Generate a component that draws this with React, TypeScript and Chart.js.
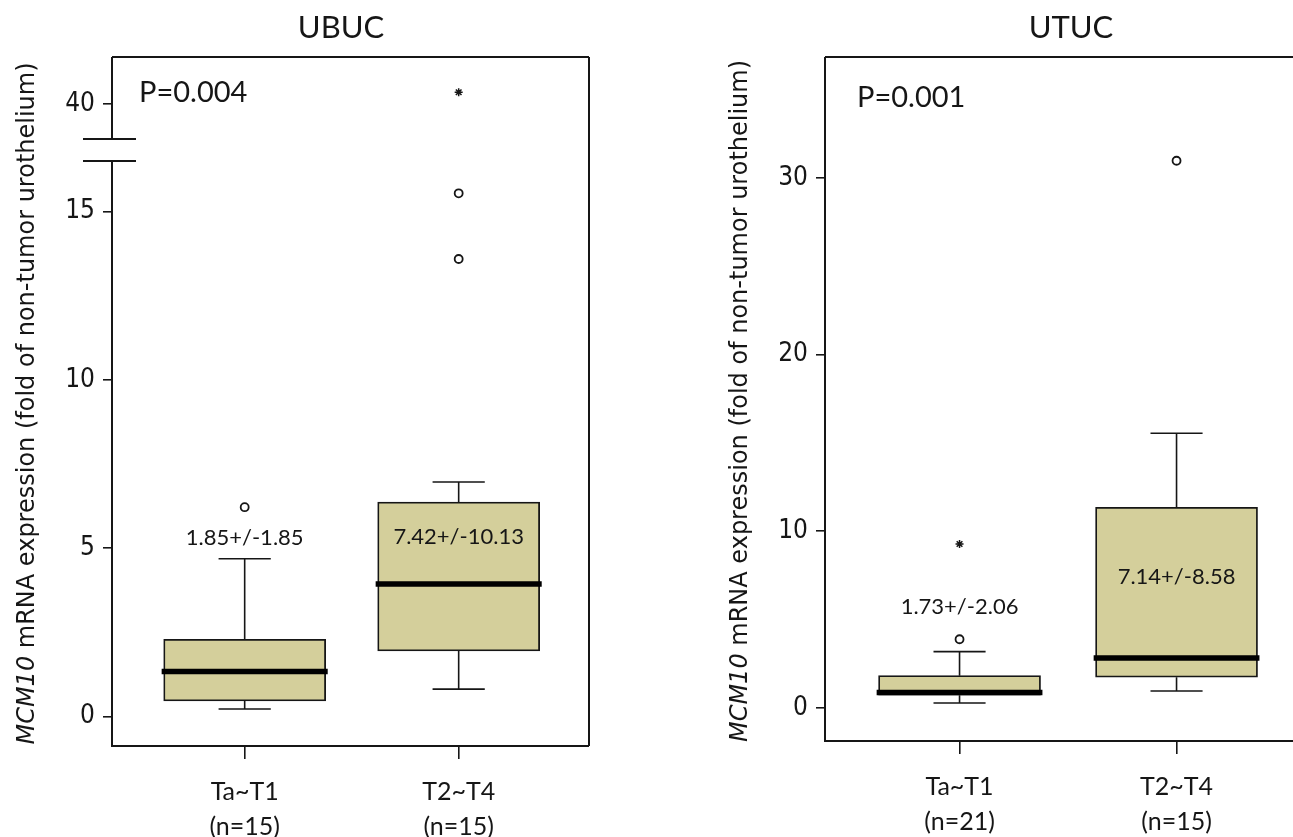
import React, { useEffect, useRef } from "react";
import { Chart, registerables } from "chart.js";

Chart.register(...registerables);

// ---------------- data ----------------
const UBUC_TITLE = "UBUC";
const UBUC_P_TEXT = "P=0.004";
const UBUC_CATEGORIES = [["Ta~T1", "(n=15)"], ["T2~T4", "(n=15)"]];
const UBUC_WHISKER_LOW = [0.23, 0.82];
const UBUC_Q1 = [0.47, 1.95];
const UBUC_MEDIAN = [1.34, 3.94];
const UBUC_Q3 = [2.3, 6.37];
const UBUC_WHISKER_HIGH = [4.69, 6.97];
const UBUC_OUTLIERS = [
  { x: 0, y: 6.22 },
  { x: 1, y: 15.54 },
  { x: 1, y: 13.59 },
];
const UBUC_EXTREMES = [{ x: 1, y: 40.35 }];
const UBUC_STAT_TEXT = ["1.85+/-1.85", "7.42+/-10.13"];
const UBUC_STAT_Y = [5.3, 5.34];
const UBUC_Y_TICKS = [0, 5, 10, 15, 40];

const UTUC_TITLE = "UTUC";
const UTUC_P_TEXT = "P=0.001";
const UTUC_CATEGORIES = [["Ta~T1", "(n=21)"], ["T2~T4", "(n=15)"]];
const UTUC_WHISKER_LOW = [0.28, 0.96];
const UTUC_Q1 = [0.72, 1.74];
const UTUC_MEDIAN = [0.88, 2.83];
const UTUC_Q3 = [1.83, 11.36];
const UTUC_WHISKER_HIGH = [3.19, 15.55];
const UTUC_OUTLIERS = [
  { x: 0, y: 3.89 },
  { x: 1, y: 30.97 },
];
const UTUC_EXTREMES = [{ x: 0, y: 9.28 }];
const UTUC_STAT_TEXT = ["1.73+/-2.06", "7.14+/-8.58"];
const UTUC_STAT_Y = [5.73, 7.43];
const UTUC_Y_TICKS = [0, 10, 20, 30];

const Y_TITLE_ITALIC = "MCM10";
const Y_TITLE_REST = " mRNA expression (fold of non-tumor urothelium)";

// ---------------- style ----------------
const INK = "#161616";
const BOX_FILL = "#d4cf9b";
const LABEL_FONT = "Lato, 'Open Sans', sans-serif";
const TICK_FONT = "'Liberation Sans Narrow', 'Arial Narrow', 'DejaVu Sans Condensed', sans-serif";
const YTITLE_FONT = "'DejaVu Sans', Verdana, sans-serif";

type Pt = { x: number; y: number };
type Panel = {
  title: string;
  pText: string;
  cats: string[][];
  lo: number[];
  q1: number[];
  med: number[];
  q3: number[];
  hi: number[];
  outliers: Pt[];
  extremes: Pt[];
  statText: string[];
  statY: number[];
  yTicks: number[];
  brk?: { from: number; upperBase: number; displayBase: number; gapLow: number; gapHigh: number };
  lay: {
    width: number;
    yMin: number;
    yMax: number;
    xMin: number;
    xMax: number;
    yAxisW: number;
    xAxisH: number;
    padR: number;
    top: number;
    boxPx: number;
    medHalf: number;
    capHalf: number;
    titleX: number;
    titleY: number;
    pDx: number;
    pDy: number;
    yTitleDx: number;
  };
};

const UBUC_PANEL: Panel = {
  title: UBUC_TITLE,
  pText: UBUC_P_TEXT,
  cats: UBUC_CATEGORIES,
  lo: UBUC_WHISKER_LOW,
  q1: UBUC_Q1,
  med: UBUC_MEDIAN,
  q3: UBUC_Q3,
  hi: UBUC_WHISKER_HIGH,
  outliers: UBUC_OUTLIERS,
  extremes: UBUC_EXTREMES,
  statText: UBUC_STAT_TEXT,
  statY: UBUC_STAT_Y,
  yTicks: UBUC_Y_TICKS,
  brk: { from: 30, upperBase: 40, displayBase: 18.19, gapLow: 16.5, gapHigh: 17.15 },
  lay: {
    width: 650,
    yMin: -0.87,
    yMax: 19.587,
    xMin: -0.62,
    xMax: 1.609,
    yAxisW: 112,
    xAxisH: 91,
    padR: 61,
    top: 57,
    boxPx: 162,
    medHalf: 0.388,
    capHalf: 0.122,
    titleX: 341,
    titleY: 28,
    pDx: 27,
    pDy: 36,
    yTitleDx: 84,
  },
};

const UTUC_PANEL: Panel = {
  title: UTUC_TITLE,
  pText: UTUC_P_TEXT,
  cats: UTUC_CATEGORIES,
  lo: UTUC_WHISKER_LOW,
  q1: UTUC_Q1,
  med: UTUC_MEDIAN,
  q3: UTUC_Q3,
  hi: UTUC_WHISKER_HIGH,
  outliers: UTUC_OUTLIERS,
  extremes: UTUC_EXTREMES,
  statText: UTUC_STAT_TEXT,
  statY: UTUC_STAT_Y,
  yTicks: UTUC_Y_TICKS,
  lay: {
    width: 700,
    yMin: -1.868,
    yMax: 36.84,
    xMin: -0.62,
    xMax: 1.615,
    yAxisW: 175,
    xAxisH: 96,
    padR: 40,
    top: 57,
    boxPx: 162,
    medHalf: 0.382,
    capHalf: 0.12,
    titleX: 421,
    titleY: 28,
    pDx: 32,
    pDy: 41,
    yTitleDx: 84,
  },
};

function buildChart(canvas: HTMLCanvasElement, p: Panel) {
  const L = p.lay;
  const tf = (v: number) =>
    p.brk && v > p.brk.from ? v - p.brk.upperBase + p.brk.displayBase : v;

  const boxData = p.q1.map((q, i) => ({ x: i, y: [q, p.q3[i]] }));
  const medData: any[] = [];
  const whiskerData: any[] = [];
  p.med.forEach((m, i) => {
    medData.push({ x: i - L.medHalf, y: m }, { x: i + L.medHalf, y: m }, { x: i, y: null });
    whiskerData.push(
      { x: i - L.capHalf, y: p.lo[i] },
      { x: i + L.capHalf, y: p.lo[i] },
      { x: i, y: null },
      { x: i, y: p.lo[i] },
      { x: i, y: p.q1[i] },
      { x: i, y: null },
      { x: i, y: p.q3[i] },
      { x: i, y: p.hi[i] },
      { x: i, y: null },
      { x: i - L.capHalf, y: p.hi[i] },
      { x: i + L.capHalf, y: p.hi[i] },
      { x: i, y: null }
    );
  });

  const decor = {
    id: "decor",
    afterDraw(chart: any) {
      const { ctx, chartArea: a, scales } = chart;
      const ys = scales.y;
      const xs = scales.x;
      ctx.save();
      // frame
      ctx.strokeStyle = INK;
      ctx.lineWidth = 2;
      ctx.lineCap = "butt";
      ctx.beginPath();
      ctx.moveTo(a.left, a.top);
      ctx.lineTo(a.right, a.top);
      ctx.moveTo(a.right, a.top);
      ctx.lineTo(a.right, a.bottom);
      ctx.moveTo(a.right, a.bottom);
      ctx.lineTo(a.left, a.bottom);
      if (p.brk) {
        const gl = ys.getPixelForValue(p.brk.gapLow);
        const gh = ys.getPixelForValue(p.brk.gapHigh);
        ctx.lineTo(a.left, gl);
        ctx.moveTo(a.left, gh);
        ctx.lineTo(a.left, a.top);
        ctx.moveTo(a.left - 29, gh);
        ctx.lineTo(a.left + 24, gh);
        ctx.moveTo(a.left - 29, gl);
        ctx.lineTo(a.left + 24, gl);
      } else {
        ctx.lineTo(a.left, a.top);
      }
      ctx.stroke();

      ctx.fillStyle = INK;
      // title
      ctx.font = `31px ${LABEL_FONT}`;
      ctx.textAlign = "center";
      ctx.textBaseline = "middle";
      ctx.fillText(p.title, L.titleX, L.titleY);
      // p text
      ctx.font = `29px ${LABEL_FONT}`;
      ctx.textAlign = "left";
      ctx.fillText(p.pText, a.left + L.pDx, a.top + L.pDy);
      // stat labels
      ctx.font = `22px ${LABEL_FONT}`;
      ctx.textAlign = "center";
      p.statText.forEach((t, i) => {
        ctx.fillText(t, xs.getPixelForValue(i), ys.getPixelForValue(p.statY[i]));
      });
      // y title (rotated, mixed italic)
      ctx.translate(a.left - L.yTitleDx, (a.top + a.bottom) / 2 + 2);
      ctx.rotate(-Math.PI / 2);
      const fi = `italic 24px ${YTITLE_FONT}`;
      const fn = `24px ${YTITLE_FONT}`;
      ctx.font = fi;
      const w1 = ctx.measureText(Y_TITLE_ITALIC).width;
      ctx.font = fn;
      const w2 = ctx.measureText(Y_TITLE_REST).width;
      const x0 = -(w1 + w2) / 2;
      ctx.textAlign = "left";
      ctx.font = fi;
      ctx.fillText(Y_TITLE_ITALIC, x0, 0);
      ctx.font = fn;
      ctx.fillText(Y_TITLE_REST, x0 + w1, 0);
      ctx.restore();
    },
  };

  return new Chart(canvas, {
    type: "bar",
    data: {
      datasets: [
        {
          type: "bar",
          data: boxData as any,
          backgroundColor: BOX_FILL,
          borderColor: INK,
          borderWidth: 1.8,
          borderSkipped: false,
          barThickness: L.boxPx,
          order: 3,
        },
        {
          type: "line",
          data: whiskerData,
          borderColor: INK,
          borderWidth: 1.6,
          pointRadius: 0,
          spanGaps: false,
          fill: false,
          order: 4,
        },
        {
          type: "line",
          data: medData,
          borderColor: "#000",
          borderWidth: 5.5,
          borderCapStyle: "butt",
          pointRadius: 0,
          spanGaps: false,
          fill: false,
          order: 1,
        },
        {
          type: "scatter",
          data: p.outliers.map((o) => ({ x: o.x, y: tf(o.y) })),
          pointStyle: "circle",
          pointRadius: 4,
          borderWidth: 1.8,
          borderColor: INK,
          backgroundColor: "rgba(0,0,0,0)",
          order: 0,
        },
        {
          type: "scatter",
          data: p.extremes.map((o) => ({ x: o.x, y: tf(o.y) })),
          pointStyle: "star",
          pointRadius: 4,
          borderWidth: 1.5,
          borderColor: INK,
          backgroundColor: INK,
          order: 0,
        },
      ] as any,
    },
    options: {
      responsive: false,
      animation: false,
      devicePixelRatio: 1,
      events: [],
      layout: { padding: { left: 0, right: L.padR, top: L.top, bottom: 0 } },
      plugins: { legend: { display: false }, tooltip: { enabled: false } },
      scales: {
        x: {
          type: "linear",
          min: L.xMin,
          max: L.xMax,
          offset: false,
          afterBuildTicks: (s: any) => {
            s.ticks = p.cats.map((_, i) => ({ value: i }));
          },
          afterFit: (s: any) => {
            s.height = L.xAxisH;
          },
          ticks: {
            autoSkip: false,
            maxRotation: 0,
            minRotation: 0,
            padding: 15,
            color: INK,
            font: { family: LABEL_FONT, size: 25, lineHeight: 1.4 },
            callback: (_v: any, i: number) => p.cats[i],
          },
          grid: {
            drawOnChartArea: false,
            drawTicks: true,
            tickLength: 13,
            color: INK,
            lineWidth: 1.6,
            offset: false,
          },
          border: { display: false },
        },
        y: {
          type: "linear",
          min: L.yMin,
          max: L.yMax,
          afterBuildTicks: (s: any) => {
            s.ticks = p.yTicks.map((v) => ({ value: tf(v) }));
          },
          afterFit: (s: any) => {
            s.width = L.yAxisW;
          },
          ticks: {
            padding: 8,
            color: INK,
            font: { family: TICK_FONT, size: 26 },
            callback: (_v: any, i: number) => String(p.yTicks[i]),
          },
          grid: {
            drawOnChartArea: false,
            drawTicks: true,
            tickLength: 9,
            color: INK,
            lineWidth: 1.6,
          },
          border: { display: false },
        },
      },
    } as any,
    plugins: [decor],
  });
}

export default function App() {
  const leftRef = useRef<HTMLCanvasElement>(null);
  const rightRef = useRef<HTMLCanvasElement>(null);
  useEffect(() => {
    const a = buildChart(leftRef.current!, UBUC_PANEL);
    const b = buildChart(rightRef.current!, UTUC_PANEL);
    return () => {
      a.destroy();
      b.destroy();
    };
  }, []);
  return (
    <div
      style={{
        position: "absolute",
        left: 0,
        top: 0,
        width: 1293,
        height: 837,
        overflow: "hidden",
        background: "#fff",
      }}
    >
      <div style={{ position: "absolute", left: 0, top: 0, width: 650, height: 837 }}>
        <canvas ref={leftRef} width={650} height={837} />
      </div>
      <div style={{ position: "absolute", left: 650, top: 0, width: 700, height: 837 }}>
        <canvas ref={rightRef} width={700} height={837} />
      </div>
    </div>
  );
}
